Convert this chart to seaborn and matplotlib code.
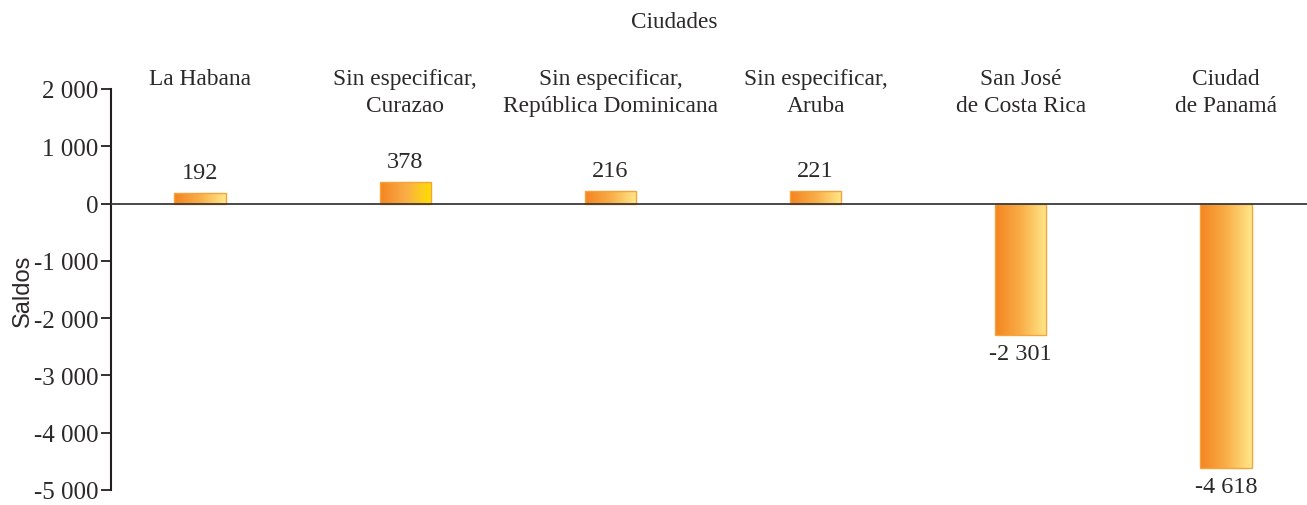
import numpy as np
import pandas as pd
import matplotlib
matplotlib.use("Agg")
import matplotlib.pyplot as plt
import seaborn as sns
from matplotlib.colors import LinearSegmentedColormap
from matplotlib.ticker import FuncFormatter

ciudades = ["La Habana", "Sin especificar,\nCurazao", "Sin especificar,\nRepública Dominicana",
            "Sin especificar,\nAruba", "San José\nde Costa Rica", "Ciudad\nde Panamá"]
saldos = [192, 378, 216, 221, -2301, -4618]
right_colors = ["#FFE88A", "#FFE000", "#FFE88A", "#FFE88A", "#FFE88A", "#FFE88A"]

sns.set_theme(style="white")
plt.rcParams['font.family'] = ['Liberation Serif', 'DejaVu Serif']

TXT = "#2B2829"


def fmt(v):
    s = f"{abs(int(v)):,}".replace(",", " ")
    return ("-" if v < 0 else "") + s


df = pd.DataFrame({"ciudad": ciudades, "saldo": saldos})

fig = plt.figure(figsize=(13.07, 5.06), dpi=100)
ax = fig.add_axes([111 / 1307, 15 / 506, 1 - 111 / 1307, 401 / 506])

sns.barplot(data=df, x="ciudad", y="saldo", width=0.25, color="#F5861F", ax=ax)

# gradient fill on each bar
for patch, rc in zip(ax.patches, right_colors):
    x0, y0 = patch.get_x(), patch.get_y()
    w, h = patch.get_width(), patch.get_height()
    cmap = LinearSegmentedColormap.from_list("g", ["#F38420", "#F9AE48", rc])
    grad = np.linspace(0, 1, 256).reshape(1, -1)
    im = ax.imshow(grad, aspect="auto", cmap=cmap,
                   extent=[x0, x0 + w, min(y0, y0 + h), max(y0, y0 + h)], zorder=2)
    im.set_clip_path(patch)
    patch.set_facecolor("none")
    patch.set_edgecolor("#F7A23A")
    patch.set_linewidth(1.0)
    patch.set_zorder(3)

# value labels
for i, v in enumerate(saldos):
    if v >= 0:
        ax.text(i, v + 170, fmt(v), ha="center", va="bottom", fontsize=17.5, color=TXT)
    else:
        ax.text(i, v - 130, fmt(v), ha="center", va="top", fontsize=17.5, color=TXT)

# city labels on top
for i, c in enumerate(ciudades):
    ax.text(i, 2370, c, ha="center", va="top", fontsize=16.8, color=TXT,
            linespacing=1.38, clip_on=False)

ax.axhline(0, color="#3A3A3A", lw=1.3, zorder=4)

ax.set_xlim(-0.434, 5.395)
ax.set_ylim(-5000, 2000)
ax.set_yticks(range(-5000, 2001, 1000))
ax.yaxis.set_major_formatter(FuncFormatter(lambda v, p: fmt(v)))
ax.tick_params(axis="y", left=True, length=7, width=1.3, color="#231F20",
               labelsize=18, labelcolor=TXT, pad=2)
ax.set_xticks([])
ax.set_xlabel("")
ax.set_ylabel("Saldos", fontsize=17, family=["Liberation Sans", "DejaVu Sans"],
              color=TXT, labelpad=0)

for s in ["top", "right", "bottom"]:
    ax.spines[s].set_visible(False)
ax.spines["left"].set_color("#231F20")
ax.spines["left"].set_linewidth(1.5)

fig.text(674 / 1307, 1 - 22 / 506, "Ciudades", ha="center", va="center",
         fontsize=16.7, color=TXT)

fig.savefig("out.png", dpi=100)
